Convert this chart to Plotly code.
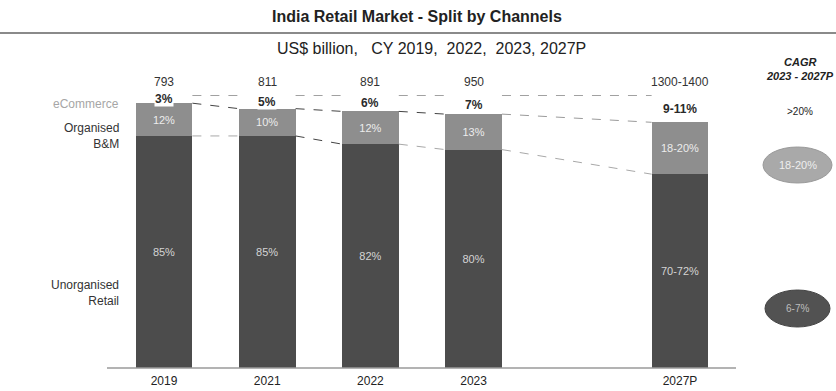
import plotly.graph_objects as go

# Market split by channel (share of total retail, %)
years = ["2019", "2021", "2022", "2023", "2027P"]
x_pos = [0, 1, 2, 3, 5]
totals = ["793", "811", "891", "950", "1300-1400"]
unorganised = [85, 85, 82, 80, 71]
organised = [12, 10, 12, 13, 19]
ecommerce = [3, 5, 6, 7, 10]
unorganised_lbl = ["85%", "85%", "82%", "80%", "70-72%"]
organised_lbl = ["12%", "10%", "12%", "13%", "18-20%"]
ecommerce_lbl = ["3%", "5%", "6%", "7%", "9-11%"]
channels = ["eCommerce", "Organised<br>B&M", "Unorganised<br>Retail"]
cagr_lbl = [">20%", "18-20%", "6-7%"]

W, H = 836, 391
BAR_W = 0.55
DARK = "#4c4c4c"
MID = "#8e8e8e"
FONT = "Liberation Sans, Arial, sans-serif"
NARROW = "Liberation Sans Narrow, Arial Narrow, Liberation Sans, sans-serif"
SP = "\u00a0"


def px(x):
    return x / W


def py(y):
    return 1 - y / H


def note(x, y, text, size, color, family=FONT, xanchor="center"):
    return dict(x=px(x), y=py(y), xref="paper", yref="paper", showarrow=False,
                xanchor=xanchor, yanchor="middle", align=xanchor if xanchor != "center" else "center",
                text=text, font=dict(family=family, size=size, color=color))


fig = go.Figure()
fig.add_trace(go.Bar(
    x=x_pos, y=unorganised, width=BAR_W, marker=dict(color=DARK, line=dict(width=0)),
    text=unorganised_lbl, textposition="inside", insidetextanchor="middle",
    textangle=0, textfont=dict(family=FONT, size=11, color="#d4d4d4"),
    hoverinfo="skip"))
fig.add_trace(go.Bar(
    x=x_pos, y=organised, width=BAR_W, marker=dict(color=MID, line=dict(width=0)),
    text=organised_lbl, textposition="inside", insidetextanchor="middle",
    textangle=0, textfont=dict(family=FONT, size=11, color="#ececec"),
    hoverinfo="skip"))
fig.add_trace(go.Bar(
    x=x_pos, y=ecommerce, width=BAR_W, marker=dict(color="white", line=dict(width=0)),
    hoverinfo="skip"))

org_top = [u + o for u, o in zip(unorganised, organised)]
full = [t + e for t, e in zip(org_top, ecommerce)]

annotations = []
# eCommerce share labels and totals above each bar
for x, t, e, lbl, tot, f in zip(x_pos, org_top, ecommerce, ecommerce_lbl, totals, full):
    annotations.append(dict(x=x, y=t + e / 2, xref="x", yref="y", text=f"<b>{lbl}</b>",
                            showarrow=False, bgcolor="white", borderpad=0,
                            xanchor="center", yanchor="middle",
                            font=dict(family=FONT, size=12, color="#2a2a2a")))
    annotations.append(dict(x=x, y=f, xref="x", yref="y", text=tot, showarrow=False,
                            xanchor="center", yanchor="middle",
                            yshift=13, font=dict(family=FONT, size=12, color="#333333")))

# Connector lines between neighbouring bars
shapes = []
for i in range(len(x_pos) - 1):
    x0 = x_pos[i] + BAR_W / 2
    x1 = x_pos[i + 1] - BAR_W / 2
    last = i == len(x_pos) - 2
    shapes.append(dict(type="line", xref="x", yref="y", x0=x0, x1=x1,
                       y0=full[i], y1=full[i + 1],
                       line=dict(color="#444444", width=1, dash="dash")))
    shapes.append(dict(type="line", xref="x", yref="y", x0=x0, x1=x1,
                       y0=org_top[i], y1=org_top[i + 1],
                       line=dict(color="#9a9a9a" if last else "#444444", width=1, dash="dash")))
    shapes.append(dict(type="line", xref="x", yref="y", x0=x0, x1=x1,
                       y0=unorganised[i], y1=unorganised[i + 1],
                       line=dict(color="#444444" if i == 1 else "#a8a8a8", width=1, dash="dash")))

# Title rule and baseline
shapes.append(dict(type="line", xref="paper", yref="paper", x0=0, x1=1, y0=py(33), y1=py(33),
                   line=dict(color="#8a8a8a", width=2)))
shapes.append(dict(type="line", xref="paper", yref="paper", x0=px(107), x1=px(736),
                   y0=py(368), y1=py(368), line=dict(color="#9a9a9a", width=1.5)))

# CAGR ellipses
shapes.append(dict(type="circle", xref="paper", yref="paper", x0=px(763), x1=px(832),
                   y0=py(183), y1=py(147), fillcolor="#a9a9a9", line=dict(color="#9a9a9a", width=1)))
shapes.append(dict(type="circle", xref="paper", yref="paper", x0=px(765), x1=px(830),
                   y0=py(327), y1=py(290), fillcolor="#525252", line=dict(color="#444444", width=1)))

subtitle = f"US$ billion,{SP * 3}CY 2019,{SP * 2}2022,{SP * 2}2023, 2027P"

# Headings and CAGR column
annotations += [
    note(417, 17, "<b>India Retail Market - Split by Channels</b>", 16, "#222222", NARROW),
    note(431, 48, subtitle, 16, "#222222", NARROW),
    note(800, 62, "<b><i>CAGR</i></b>", 11, "#222222"),
    note(800, 76, "<b><i>2023 - 2027P</i></b>", 11, "#222222", NARROW),
    note(800, 111, cagr_lbl[0], 10, "#222222"),
    note(798, 165, cagr_lbl[1], 11, "#eeeeee"),
    note(797, 308, cagr_lbl[2], 10, "#bdbdbd"),
]

# Channel names on the left
left_lbl_y = [104, 136, 293]
left_colors = ["#a6a6a6", "#333333", "#333333"]
for name, yy, c in zip(channels, left_lbl_y, left_colors):
    annotations.append(note(121, yy, name, 12, c, xanchor="right"))

fig.update_layout(
    width=W, height=H, barmode="stack", showlegend=False,
    margin=dict(l=0, r=0, t=0, b=0),
    paper_bgcolor="white", plot_bgcolor="white",
    shapes=shapes, annotations=annotations,
    xaxis=dict(domain=[px(164 - 51.6), px(680 + 51.6)], range=[-0.5, 5.5],
               tickvals=x_pos, ticktext=years, ticks="", showgrid=False, zeroline=False,
               showline=False, ticklabelstandoff=4,
               tickfont=dict(family=FONT, size=12, color="#222222")),
    yaxis=dict(domain=[py(368), py(95)], range=[0, 100], visible=False, showgrid=False),
)

fig.write_html("out.html")
